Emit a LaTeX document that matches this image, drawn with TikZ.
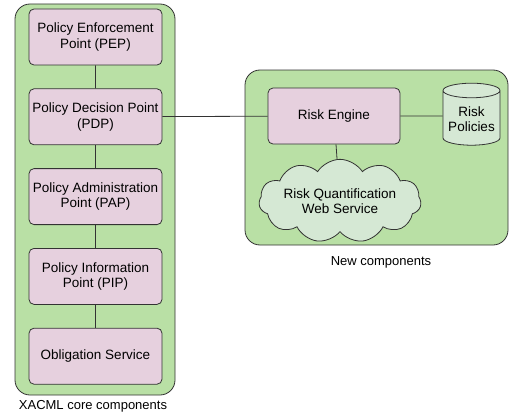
\documentclass[tikz,border=0pt]{standalone}
\usepackage{fontspec}
\setmainfont{Liberation Sans}
\usetikzlibrary{positioning, shapes.geometric, shapes.symbols}
\definecolor{groupgreen}{HTML}{B9E0A5}
\definecolor{boxpink}{HTML}{E6D0DE}
\definecolor{storegreen}{HTML}{D5E8D4}
\definecolor{edgegray}{HTML}{333333}
\tikzset{
x=1pt, y=1pt,
every path/.style={line width=0.8pt},
node distance=23pt, % gap between the stacked boxes
label font/.style={font=\fontsize{13.5}{15.5}\selectfont},
group/.style={draw=edgegray, fill=groupgreen, rounded corners=15pt}, % container round a set of components
component/.style={draw=edgegray, fill=boxpink, rounded corners=5pt, minimum width=133pt, minimum height=56pt, align=center, label font}, % one component
store/.style={cylinder, shape border rotate=90, aspect=0.3, draw=edgegray, fill=storegreen, minimum width=57pt, minimum height=62pt, align=center, inner sep=1pt, label font},
service/.style={cloud, cloud puffs=11, cloud puff arc=115, aspect=2.6, draw=edgegray, fill=storegreen, minimum width=140pt, minimum height=50pt, align=center, inner sep=0pt, label font},
caption/.style={font=\fontsize{13}{15}\selectfont},
}
\begin{document}
\begin{tikzpicture}
    \useasboundingbox (0,0) rectangle (511,-420);
    % containers
    \draw[group] (15,-4) rectangle (175,-395);
    \draw[group] (245,-70) rectangle (508,-245);
    \node[caption] (xacml) at (93,-406) {XACML core components};
    \node[caption] (new) at (381,-262) {New components};

    % XACML stack
    \node[component] (pep) at (95.5,-37) {Policy Enforcement\\Point (PEP)};
    \node[component, below=of pep] (pdp) {Policy Decision Point\\(PDP)};
    \node[component, below=of pdp] (pap) {Policy Administration\\Point (PAP)};
    \node[component, below=of pap] (pip) {Policy Information\\Point (PIP)};
    \node[component, below=of pip] (obl) {Obligation Service};

    % new components
    \node[component, minimum width=132pt] (re) at (334,-116) {Risk Engine};
    \node[store] (pol) at (471.5,-119) {Risk\\Policies};
    \node[service] (rq) at (340,-201) {Risk Quantification\\Web Service};

    \draw[edgegray]
        (pep) -- (pdp)
        (pdp) -- (pap)
        (pap) -- (pip)
        (pip) -- (obl)
        (pdp) -- (re)
        (re.east) -- (re.east -| pol.west)
        (re) -- (rq);
\end{tikzpicture}
\end{document}
